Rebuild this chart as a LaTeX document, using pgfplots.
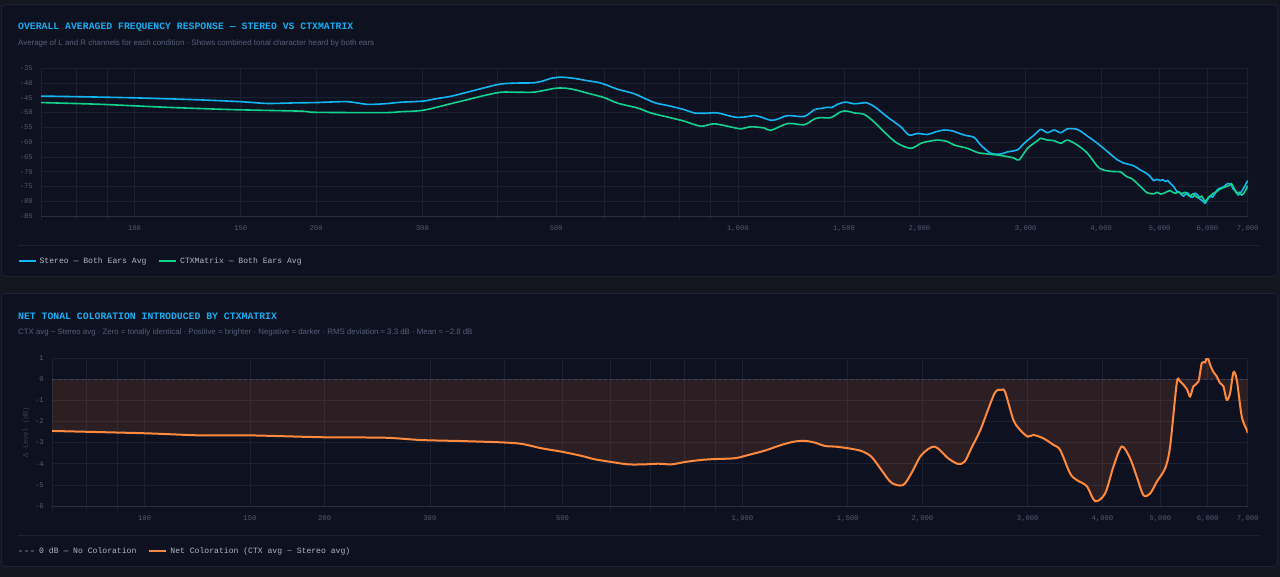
\documentclass[border=0pt]{standalone}
\usepackage{fontspec}
\setmainfont{Liberation Sans}
\setmonofont{Liberation Mono}
\usepackage{pgfplots}
\pgfplotsset{compat=1.18}
\definecolor{pagebg}{HTML}{14171F}
\definecolor{cardbg}{HTML}{0E1120}
\definecolor{cardborder}{HTML}{1D2131}
\definecolor{gridc}{HTML}{1C2033}
\definecolor{axisc}{HTML}{292E42}
\definecolor{tickc}{HTML}{525B72}
\definecolor{subc}{HTML}{56607A}
\definecolor{titlec}{HTML}{19ACEE}
\definecolor{legtext}{HTML}{B0B8C8}
\definecolor{stereoc}{HTML}{12B6F2}
\definecolor{ctxc}{HTML}{10D38E}
\definecolor{orangec}{HTML}{FF8A3D}
\definecolor{zeroc}{HTML}{3C4258}
\definecolor{dimc}{HTML}{3A4057}

\pgfplotstableread{
f v
70 -44.4
85 -44.7
100 -45.0
125 -45.6
150 -46.3
166 -46.9
185 -46.7
200 -46.6
225 -46.3
243 -47.2
260 -47.0
276 -46.5
301 -46.1
314 -45.4
334 -44.5
356 -43.1
380 -41.6
405 -40.3
431 -40.0
459 -39.9
477 -39.2
490 -38.4
509 -38.0
535 -38.4
563 -39.2
593 -40.0
632 -42.1
673 -43.6
727 -46.6
765 -47.6
815 -49.0
846 -50.1
886 -50.2
925 -50.1
986 -51.5
1025 -51.5
1064 -51.0
1092 -51.5
1134 -52.6
1164 -52.2
1210 -51.0
1288 -51.3
1339 -49.0
1373 -48.6
1408 -48.2
1430 -48.3
1462 -47.2
1481 -46.8
1510 -46.45
1558 -47.0
1599 -46.8
1629 -46.6
1682 -47.9
1770 -51.5
1862 -54.8
1922 -57.6
1985 -57.05
2062 -57.4
2128 -56.5
2197 -55.9
2268 -56.2
2371 -57.6
2463 -58.4
2527 -61.0
2625 -63.75
2727 -64.0
2798 -63.3
2906 -62.6
2981 -60.4
3097 -57.6
3177 -55.7
3259 -56.8
3343 -55.9
3429 -56.8
3517 -55.5
3654 -55.7
3796 -57.95
3944 -60.4
4097 -63.2
4257 -66.0
4350 -67.0
4530 -68.0
4646 -69.4
4760 -70.6
4826 -71.7
4887 -73.0
4950 -72.6
5013 -73.0
5060 -72.7
5109 -73.3
5160 -73.0
5207 -73.9
5273 -75.0
5340 -76.7
5400 -77.0
5443 -77.9
5480 -78.3
5548 -77.1
5580 -77.4
5618 -78.4
5680 -78.6
5726 -77.3
5780 -77.9
5836 -79.3
5900 -80.0
5948 -80.7
6000 -79.5
6061 -78.4
6120 -78.6
6178 -77.3
6240 -76.0
6296 -75.6
6360 -75.3
6417 -74.8
6480 -74.0
6540 -74.1
6580 -74.6
6623 -75.9
6690 -76.6
6750 -77.9
6836 -76.7
6923 -74.8
6986 -73.3
7000 -73.5
}\stereo

\pgfplotstableread{
f v
70 -46.6
88 -47.2
113 -48.2
146 -49.0
188 -49.5
200 -49.9
259 -50.0
276 -49.7
301 -49.2
334 -47.0
356 -45.65
380 -44.2
405 -43.1
431 -43.1
459 -43.1
477 -42.5
502 -41.7
528 -41.95
563 -43.4
600 -44.9
632 -46.8
682 -48.45
717 -50.1
765 -51.5
815 -52.9
868 -54.6
914 -53.8
986 -55.1
1012 -55.5
1051 -54.8
1106 -55.2
1134 -56.0
1210 -53.7
1288 -54.1
1339 -52.15
1373 -51.7
1426 -51.7
1482 -49.7
1519 -49.5
1558 -50.1
1619 -50.6
1682 -53.15
1770 -57.6
1839 -60.4
1935 -62.1
2010 -60.4
2062 -59.8
2142 -59.3
2225 -59.8
2283 -61.0
2402 -62.1
2495 -63.5
2592 -64.0
2727 -64.5
2870 -65.4
2925 -66.0
3020 -62.1
3137 -59.5
3177 -58.7
3259 -59.3
3343 -59.5
3429 -60.4
3517 -59.3
3654 -61.0
3796 -63.75
3944 -68.2
4020 -69.3
4150 -69.9
4311 -70.1
4400 -71.6
4500 -72.4
4646 -75.0
4765 -77.1
4887 -77.5
4950 -77.0
5020 -77.6
5077 -77.3
5140 -76.8
5207 -76.4
5260 -77.0
5307 -77.3
5380 -76.9
5443 -77.5
5500 -77.0
5548 -77.5
5610 -78.3
5680 -77.5
5726 -78.2
5800 -78.9
5870 -78.3
5948 -80.1
6020 -78.7
6080 -78.0
6139 -77.3
6220 -76.7
6296 -75.9
6380 -75.4
6458 -75.0
6520 -74.7
6582 -74.1
6640 -75.6
6707 -77.3
6770 -77.0
6836 -77.9
6900 -77.2
6950 -76.0
6986 -75.0
7000 -75.2
}\ctx

\pgfplotstableread{
f v
70 -2.45
100 -2.56
124 -2.66
150 -2.66
200 -2.75
252 -2.77
290 -2.88
340 -2.93
395 -2.99
427 -3.06
461 -3.27
498 -3.43
538 -3.63
566 -3.79
604 -3.92
644 -4.03
686 -4.03
723 -4.00
761 -4.03
801 -3.92
854 -3.82
899 -3.78
971 -3.74
1022 -3.59
1090 -3.38
1162 -3.11
1223 -2.95
1271 -2.92
1321 -3.00
1373 -3.16
1427 -3.19
1502 -3.27
1581 -3.40
1643 -3.67
1708 -4.30
1775 -4.90
1856 -5.01
1917 -4.45
1992 -3.59
2096 -3.19
2207 -3.74
2293 -4.01
2353 -3.90
2414 -3.27
2500 -2.40
2574 -1.45
2641 -0.66
2680 -0.50
2710 -0.51
2749 -0.60
2839 -1.93
2913 -2.40
3000 -2.72
3066 -2.64
3187 -2.80
3312 -3.11
3399 -3.35
3532 -4.46
3623 -4.77
3766 -5.06
3889 -5.77
4041 -5.41
4173 -4.14
4310 -3.19
4450 -3.75
4566 -4.62
4685 -5.49
4807 -5.41
4932 -4.85
5093 -4.22
5191 -3.19
5326 -0.19
5395 -0.11
5536 -0.47
5607 -0.82
5679 -0.34
5790 -0.11
5865 0.76
5940 0.79
5994 1.05
6056 0.68
6134 0.34
6213 0.13
6293 -0.19
6375 -0.34
6457 -0.98
6541 -0.66
6625 0.32
6711 -0.03
6841 -1.77
6974 -2.40
7000 -2.55
}\net

\pgfplotsset{
  chartbase/.style={
    scale only axis, xmin=70, xmax=7000,
    xtick={100,150,200,300,500,1000,1500,2000,3000,4000,5000,6000,7000},
    xticklabels={100,150,200,300,500,{1,000},{1,500},{2,000},{3,000},{4,000},{5,000},{6,000},{7,000}},
    minor xtick={70,80,90,400,600,700,800,900},
    grid=both,
    major grid style={gridc, line width=0.7pt},
    minor grid style={gridc, line width=0.7pt},
    axis x line*=bottom, axis y line*=left,
    x axis line style={axisc, line width=0.8pt},
    y axis line style={gridc, line width=0.7pt},
    major tick length=0pt, minor tick length=4pt, tick align=outside,
    tick style={gridc, line width=0.7pt},
    ticklabel style={font=\ttfamily\fontsize{7.2}{8}\selectfont, text=tickc, inner sep=0pt},
    xticklabel style={yshift=-9pt},
    yticklabel style={xshift=-8pt},
    legend columns=2,
    legend cell align=left,
    legend style={draw=none, fill=none, inner sep=0pt, outer sep=0pt,
      font=\ttfamily\fontsize{8.1}{9}\selectfont, text=legtext,
      nodes={inner xsep=3pt, inner ysep=0pt},
      /tikz/every even column/.append style={column sep=9pt}},
    legend image code/.code={\draw[##1] (0pt,0pt) -- (17pt,0pt);},
  }
}

\begin{document}
\begin{tikzpicture}[x=1pt,y=1pt]
\fill[pagebg] (0,0) rectangle (1280,-577);
\path[use as bounding box] (0,0) rectangle (1280,-577);
\draw[cardborder, fill=cardbg, rounded corners=4pt, line width=0.8pt] (1.5,-4.5) rectangle (1277.5,-276.5);
\draw[cardborder, fill=cardbg, rounded corners=4pt, line width=0.8pt] (1.5,-293.5) rectangle (1277.5,-566.5);

\node[anchor=base west, inner sep=0, font=\ttfamily\bfseries\fontsize{9.8}{10}\selectfont, text=titlec] at (18,-30) {OVERALL AVERAGED FREQUENCY RESPONSE — STEREO VS CTXMATRIX};
\node[anchor=base west, inner sep=0, font=\fontsize{7.9}{9}\selectfont, text=subc] at (18,-45.5) {Average of L and R channels for each condition · Shows combined tonal character heard by both ears};
\draw[cardborder, line width=0.8pt] (18,-245) -- (1260,-245);

\node[anchor=base west, inner sep=0, font=\ttfamily\bfseries\fontsize{9.8}{10}\selectfont, text=titlec] at (18,-319.5) {NET TONAL COLORATION INTRODUCED BY CTXMATRIX};
\node[anchor=base west, inner sep=0, font=\fontsize{7.85}{9}\selectfont, text=subc] at (18,-334.5) {CTX avg − Stereo avg · Zero = tonally identical · Positive = brighter · Negative = darker · RMS deviation ≈ 3.3 dB · Mean ≈ −2.8 dB};
\draw[cardborder, line width=0.8pt] (18,-535) -- (1260,-535);

\begin{axis}[xmode=log, chartbase,
  at={(41pt,-216pt)}, anchor=south west,
  width=1206.7pt, height=147.7pt,
  ymin=-85, ymax=-35,
  ytick={-85,-80,-75,-70,-65,-60,-55,-50,-45,-40,-35},
  yticklabels={-85,-80,-75,-70,-65,-60,-55,-50,-45,-40,-35},
  legend style={at={(axis description cs:-0.01906,-0.3047)}, anchor=west},
]
\addplot[stereoc, line width=1.6pt, smooth, tension=0.5] table[x=f,y=v] {\stereo};
\addlegendentry{Stereo — Both Ears Avg}
\addplot[ctxc, line width=1.6pt, smooth, tension=0.5] table[x=f,y=v] {\ctx};
\addlegendentry{CTXMatrix — Both Ears Avg}
\end{axis}

\begin{axis}[xmode=log, chartbase,
  at={(52pt,-506pt)}, anchor=south west,
  width=1195.7pt, height=148pt,
  ymin=-6, ymax=1,
  ytick={-6,-5,-4,-3,-2,-1,0,1},
  yticklabels={-6,-5,-4,-3,-2,-1,0,1},
  ylabel={Δ Level (dB)},
  ylabel style={at={(axis description cs:-0.02174,0.5)}, anchor=center, font=\ttfamily\fontsize{7}{8}\selectfont, text=dimc},
  legend style={at={(axis description cs:-0.02843,-0.304)}, anchor=west},
]
\addplot[draw=none, fill=orangec, fill opacity=0.12, forget plot, smooth, tension=0.5] table[x=f,y=v] {\net} \closedcycle;
\addplot[zeroc, line width=1.2pt, dash pattern=on 3pt off 3pt] coordinates {(70,0) (7000,0)};
\addlegendentry{0 dB — No Coloration}
\addplot[orangec, line width=2pt, smooth, tension=0.5] table[x=f,y=v] {\net};
\addlegendentry{Net Coloration (CTX avg − Stereo avg)}
\end{axis}
\end{tikzpicture}
\end{document}
